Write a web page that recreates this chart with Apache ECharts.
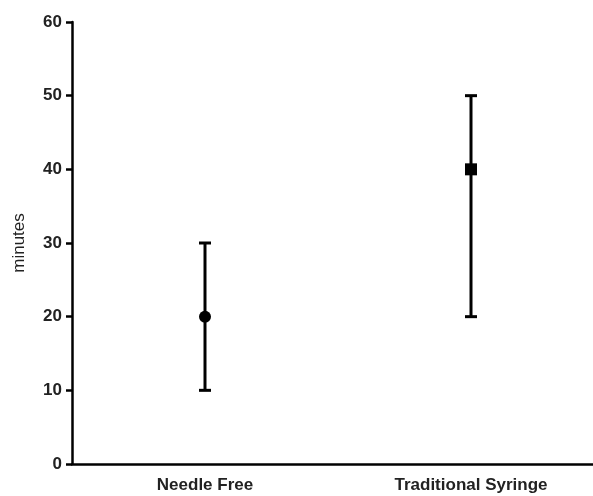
<!DOCTYPE html>
<html>
<head>
<meta charset="utf-8">
<script src="https://cdn.jsdelivr.net/npm/echarts@6/dist/echarts.min.js"></script>
<style>
  html, body { margin: 0; padding: 0; background: #fff; }
  #chart { width: 593px; height: 496px; }
</style>
</head>
<body>
<div id="chart"></div>
<script>
var categories = ['Needle Free', 'Traditional Syringe'];
var means = [20, 40];
var lower = [10, 20];
var upper = [30, 50];
var symbols = ['circle', 'rect'];

var chart = echarts.init(document.getElementById('chart'));

var errData = categories.map(function (c, i) {
  return [i, lower[i], upper[i]];
});

chart.setOption({
  animation: false,
  grid: { left: 72, width: 532, top: 22, bottom: 32, outerBoundsMode: 'none' },
  xAxis: {
    type: 'category',
    data: categories,
    axisLine: { lineStyle: { color: '#000', width: 2.5 } },
    axisTick: { alignWithLabel: true, length: 5, lineStyle: { color: '#000', width: 2.5 } },
    axisLabel: { color: '#222', fontSize: 17, fontWeight: 'bold', fontFamily: 'Liberation Sans', margin: 13 }
  },
  yAxis: {
    type: 'value',
    min: 0,
    max: 60,
    interval: 10,
    name: 'minutes',
    nameLocation: 'middle',
    nameGap: 44,
    nameTextStyle: { color: '#222', fontSize: 17, fontFamily: 'Liberation Sans' },
    axisLine: { show: true, lineStyle: { color: '#000', width: 2.5 } },
    axisTick: { show: true, length: 6, lineStyle: { color: '#000', width: 2.5 } },
    axisLabel: { color: '#222', fontSize: 17, fontWeight: 'bold', fontFamily: 'Liberation Sans', margin: 10 },
    splitLine: { show: false }
  },
  series: [
    {
      type: 'custom',
      data: errData,
      renderItem: function (params, api) {
        var x = api.value(0);
        var lo = api.coord([x, api.value(1)]);
        var hi = api.coord([x, api.value(2)]);
        var w = 6;
        var style = { stroke: '#000', lineWidth: 3 };
        return {
          type: 'group',
          children: [
            { type: 'line', shape: { x1: lo[0], y1: lo[1], x2: hi[0], y2: hi[1] }, style: style },
            { type: 'line', shape: { x1: lo[0] - w, y1: lo[1], x2: lo[0] + w, y2: lo[1] }, style: style },
            { type: 'line', shape: { x1: hi[0] - w, y1: hi[1], x2: hi[0] + w, y2: hi[1] }, style: style }
          ]
        };
      },
      z: 2
    },
    {
      type: 'scatter',
      data: means.map(function (v, i) {
        return { value: [i, v], symbol: symbols[i] };
      }),
      symbolSize: 12,
      itemStyle: { color: '#000', opacity: 1 },
      z: 3
    }
  ]
});
</script>
</body>
</html>
